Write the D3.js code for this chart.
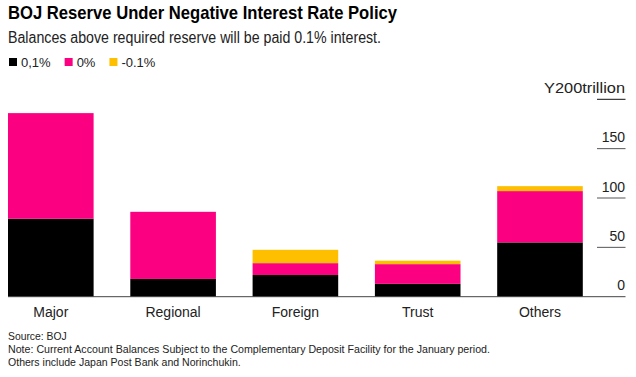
<!DOCTYPE html>
<html>
<head>
<meta charset="utf-8">
<script src="https://cdn.jsdelivr.net/npm/d3@7"></script>
<style>
  body { margin: 0; background: #fff; }
  text { font-family: "Liberation Sans", Arial, sans-serif; }
</style>
</head>
<body>
<svg id="chart"></svg>
<script>
const categories = ["Major", "Regional", "Foreign", "Trust", "Others"];
const seriesNames = ["0,1%", "0%", "-0.1%"];
const rate01 = [79, 18, 22, 13, 55];
const rate0 = [107, 68, 12, 20, 52];
const rateNeg = [0, 0, 13.5, 3.5, 5];
const yTicks = [0, 50, 100, 150, 200];
const colors = ["#000000", "#fc0082", "#fdbf00"];

const W = 636, H = 377;
const svg = d3.select("#chart").attr("width", W).attr("height", H);

const rows = categories.map((c, i) => ({
  cat: c, "0,1%": rate01[i], "0%": rate0[i], "-0.1%": rateNeg[i]
}));
const stacked = d3.stack().keys(seriesNames)(rows);

const x = d3.scaleBand().domain(categories).range([8, 582.8]).paddingInner(0.3).paddingOuter(0);
const y = d3.scaleLinear().domain([0, 200]).range([296.7, 99.3]);

// title
svg.append("text").attr("x", 8).attr("y", 18.5)
  .attr("font-size", "19px").attr("font-weight", "bold").attr("fill", "#000")
  .attr("textLength", 389).attr("lengthAdjust", "spacingAndGlyphs")
  .text("BOJ Reserve Under Negative Interest Rate Policy");
svg.append("text").attr("x", 8).attr("y", 43)
  .attr("font-size", "16px").attr("fill", "#222")
  .attr("textLength", 373).attr("lengthAdjust", "spacingAndGlyphs")
  .text("Balances above required reserve will be paid 0.1% interest.");

// legend
let lx = 9;
seriesNames.forEach((s, i) => {
  const g = svg.append("g").attr("transform", `translate(${lx},58)`);
  g.append("rect").attr("width", 8).attr("height", 8).attr("fill", colors[i]);
  const t = g.append("text").attr("x", 12).attr("y", 8.5)
    .attr("font-size", "13px").attr("fill", "#222").text(s);
  lx += 12 + t.node().getComputedTextLength() + 14;
});

// bars
stacked.forEach((layer, i) => {
  svg.append("g").selectAll("rect").data(layer).join("rect")
    .attr("x", d => x(d.data.cat))
    .attr("width", x.bandwidth())
    .attr("y", d => y(d[1]))
    .attr("height", d => y(d[0]) - y(d[1]))
    .attr("fill", colors[i]);
});

// y axis on the right
const ya = svg.append("g");
yTicks.forEach(v => {
  if (v > 0) {
    ya.append("line").attr("x1", 597).attr("x2", 625.5)
      .attr("y1", y(v)).attr("y2", y(v))
      .attr("stroke", v === 200 ? "#111" : "#555").attr("stroke-width", 1);
  }
  const t = ya.append("text").attr("x", 625).attr("y", y(v) - 6.5)
    .attr("text-anchor", "end").attr("font-size", "14px").attr("fill", "#222")
    .text(v === 200 ? "Y200trillion" : v);
  if (v === 200) t.attr("textLength", 81).attr("lengthAdjust", "spacingAndGlyphs");
});

// baseline
svg.append("line").attr("x1", 8).attr("x2", 625.5)
  .attr("y1", y(0)).attr("y2", y(0))
  .attr("stroke", "#444").attr("stroke-width", 1);

// x labels
categories.forEach(c => {
  svg.append("text").attr("x", x(c) + x.bandwidth() / 2).attr("y", 316.5)
    .attr("text-anchor", "middle").attr("font-size", "14px").attr("fill", "#222")
    .text(c);
});

// footer
const notes = [
  "Source: BOJ",
  "Note: Current Account Balances Subject to the Complementary Deposit Facility for the January period.",
  "Others include Japan Post Bank and Norinchukin."
];
const noteWidths = [58.7, 482, 232.7];
notes.forEach((n, i) => {
  svg.append("text").attr("x", 8).attr("y", 340 + i * 12.8)
    .attr("font-size", "11.5px").attr("fill", "#222")
    .attr("textLength", noteWidths[i]).attr("lengthAdjust", "spacingAndGlyphs")
    .text(n);
});
</script>
</body>
</html>
